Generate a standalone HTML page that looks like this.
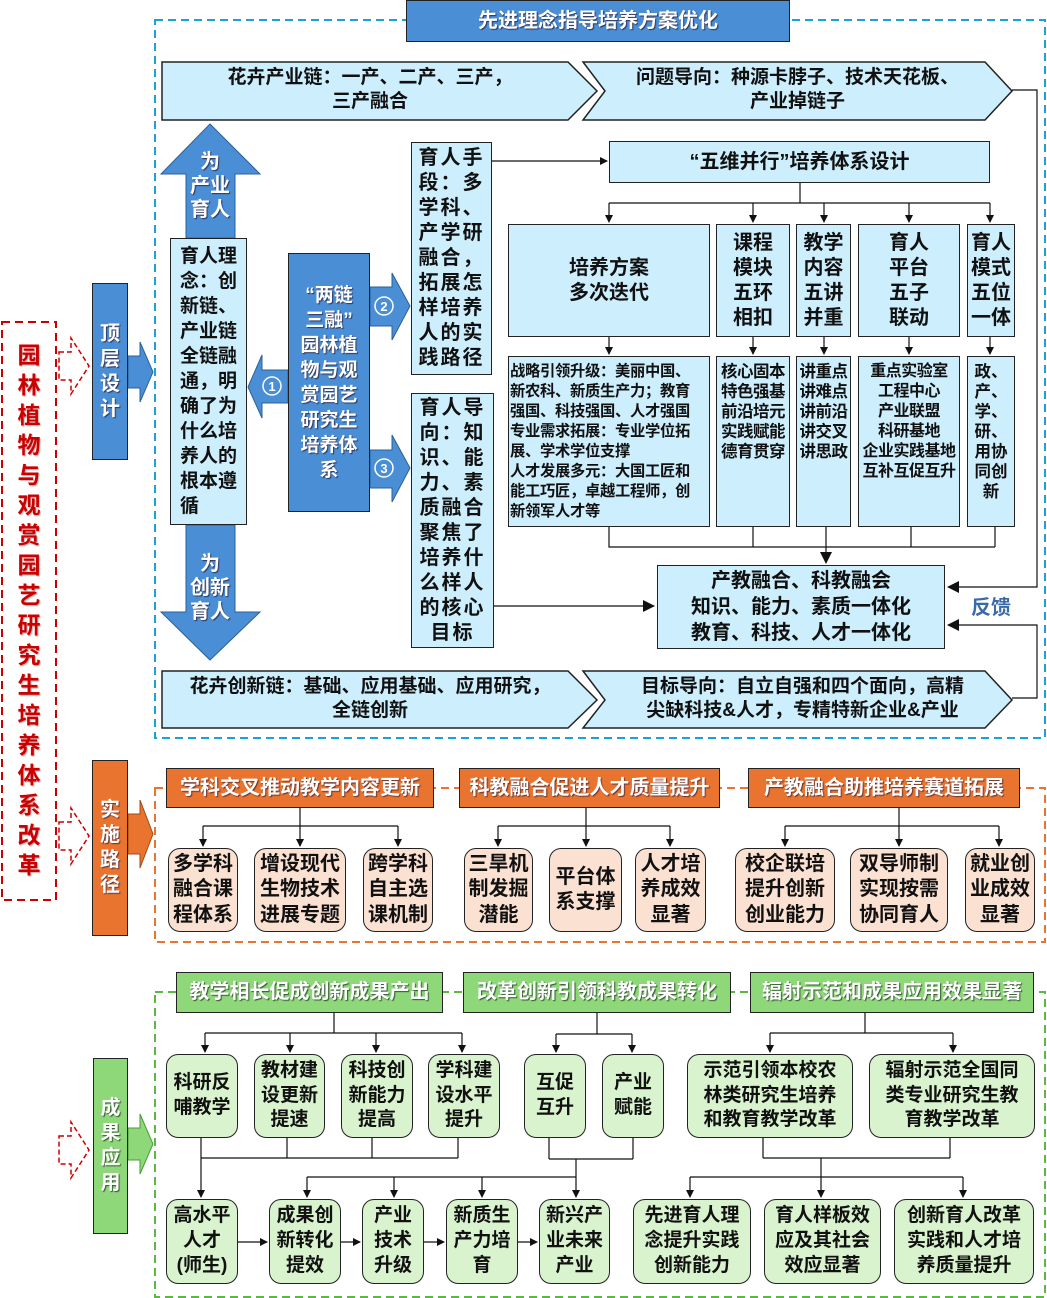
<!DOCTYPE html>
<html><head><meta charset="utf-8"><style>
*{margin:0;padding:0;box-sizing:border-box}
body{width:1047px;height:1298px;position:relative;background:#fff;font-family:"Liberation Sans","Noto Sans CJK SC",sans-serif;font-weight:bold;color:#111;overflow:hidden}
.b{position:absolute;display:flex;align-items:center;justify-content:center;text-align:center;border:1.5px solid #222;line-height:1.25}
.lb{background:#cdeefc}
.bl{background:#4a8fd6;color:#fff;text-shadow:1px 1px 1px #335}
.or{background:#e8742f;color:#fff;text-shadow:1px 1px 1px #633}
.gr{background:#8fd87a;color:#fff;text-shadow:1px 1px 1px #353}
.pk{background:#fbe1d2;border-radius:12px;font-size:20px;line-height:1.27}
.lg{background:#d9f3cf;border-radius:12px;font-size:19px;line-height:1.3}
.t{position:absolute;text-align:center;line-height:1.25}
svg{position:absolute;left:0;top:0}
</style></head><body>
<svg width="1047" height="1298">
<defs><marker id="a" markerWidth="8" markerHeight="8" refX="7" refY="4" orient="auto" markerUnits="userSpaceOnUse"><path d="M0,0L8,4L0,8z" fill="#111"/></marker>
<marker id="s" markerWidth="12" markerHeight="12" refX="11" refY="6" orient="auto" markerUnits="userSpaceOnUse"><path d="M0,0L12,6L0,12z" fill="#111"/></marker></defs>
<rect x="155" y="20" width="890" height="718" fill="none" stroke="#1ba1dc" stroke-width="2" stroke-dasharray="8,5"/>
<rect x="155" y="788" width="890" height="154" fill="none" stroke="#e8742f" stroke-width="2" stroke-dasharray="8,5"/>
<rect x="155" y="992" width="890" height="305" fill="none" stroke="#5cb840" stroke-width="2" stroke-dasharray="8,5"/>
<rect x="2" y="322" width="54" height="578" fill="none" stroke="#c00" stroke-width="2" stroke-dasharray="8,5"/>
<g fill="none" stroke="#c00" stroke-width="1.5" stroke-dasharray="5,3">
<path d="M59,352h12v-14l18,28l-18,28v-14h-12z"/>
<path d="M59,822h12v-14l18,28l-18,28v-14h-12z"/>
<path d="M59,1136h12v-14l18,28l-18,28v-14h-12z"/>
</g>
<g fill="#cdeefc" stroke="#222" stroke-width="1.5">
<polygon points="162,62 568,62 597,91 568,120 162,120"/>
<polygon points="583,62 985,62 1012,91 985,120 583,120 605,91"/>
<polygon points="162,671 568,671 597,700 568,728 162,728"/>
<polygon points="583,671 985,671 1012,700 985,728 583,728 605,700"/>
</g>
<g fill="#4a8fd6" stroke="#2b5f9a" stroke-width="1">
<polygon points="210,124 260,174 235,174 235,238 186,238 186,174 161,174"/>
<polygon points="186,525 235,525 235,612 260,612 210,660 161,612 186,612"/>
<polygon points="128,356 140,356 140,342 153,372 140,402 140,388 128,388"/>
<polygon points="288,370 262,370 262,355 248,387 262,418 262,403 288,403"/>
<polygon points="370,287 392,287 392,273 410,306 392,340 392,326 370,326"/>
<polygon points="370,450 392,450 392,435 410,468 392,502 392,488 370,488"/>
</g>
<polygon points="128,814 140,814 140,800 153,834 140,868 140,854 128,854" fill="#e8742f" stroke="#a04a1a"/>
<polygon points="128,1128 140,1128 140,1114 153,1144 140,1174 140,1160 128,1160" fill="#8fd87a" stroke="#4a9a3a"/>
<g fill="none" stroke="#fff" stroke-width="1.5"><circle cx="272" cy="386" r="9"/><circle cx="384" cy="306" r="9"/><circle cx="384" cy="468" r="9"/></g>
<g fill="#fff" font-size="13" font-family="Liberation Sans" text-anchor="middle"><text x="272" y="391">1</text><text x="384" y="311">2</text><text x="384" y="473">3</text></g>
<g stroke="#111" stroke-width="1.2" fill="none">
<line x1="492" y1="161" x2="607" y2="161" marker-end="url(#a)"/>
<line x1="800" y1="183" x2="800" y2="203"/>
<line x1="609" y1="203" x2="990" y2="203"/>
<line x1="609" y1="203" x2="609" y2="222" marker-end="url(#a)"/>
<line x1="753" y1="203" x2="753" y2="222" marker-end="url(#a)"/>
<line x1="824" y1="203" x2="824" y2="222" marker-end="url(#a)"/>
<line x1="909" y1="203" x2="909" y2="222" marker-end="url(#a)"/>
<line x1="990" y1="203" x2="990" y2="222" marker-end="url(#a)"/>
<line x1="609" y1="337" x2="609" y2="354" marker-end="url(#a)"/>
<line x1="753" y1="337" x2="753" y2="354" marker-end="url(#a)"/>
<line x1="824" y1="337" x2="824" y2="354" marker-end="url(#a)"/>
<line x1="909" y1="337" x2="909" y2="354" marker-end="url(#a)"/>
<line x1="990" y1="337" x2="990" y2="354" marker-end="url(#a)"/>
<polyline points="609,527 609,547 995,547"/>
<line x1="753" y1="527" x2="753" y2="547"/><line x1="911" y1="527" x2="911" y2="547"/><line x1="995" y1="527" x2="995" y2="547"/>
<line x1="826" y1="527" x2="826" y2="563" marker-end="url(#s)"/>
<line x1="494" y1="606" x2="654" y2="606" marker-end="url(#s)"/>
<polyline points="1012,90 1037,90 1037,587 948,587" marker-end="url(#s)"/>
<polyline points="1012,698 1037,698 1037,625 948,625" marker-end="url(#s)"/>
<line x1="300" y1="808" x2="300" y2="826"/><line x1="203" y1="826" x2="398" y2="826"/>
<line x1="203" y1="826" x2="203" y2="846" marker-end="url(#a)"/><line x1="300" y1="826" x2="300" y2="846" marker-end="url(#a)"/><line x1="398" y1="826" x2="398" y2="846" marker-end="url(#a)"/>
<line x1="586" y1="808" x2="586" y2="826"/><line x1="498" y1="826" x2="670" y2="826"/>
<line x1="498" y1="826" x2="498" y2="846" marker-end="url(#a)"/><line x1="586" y1="826" x2="586" y2="846" marker-end="url(#a)"/><line x1="670" y1="826" x2="670" y2="846" marker-end="url(#a)"/>
<line x1="899" y1="808" x2="899" y2="826"/><line x1="785" y1="826" x2="999" y2="826"/>
<line x1="785" y1="826" x2="785" y2="846" marker-end="url(#a)"/><line x1="899" y1="826" x2="899" y2="846" marker-end="url(#a)"/><line x1="999" y1="826" x2="999" y2="846" marker-end="url(#a)"/>
<line x1="334" y1="1013" x2="334" y2="1033"/><line x1="205" y1="1033" x2="462" y2="1033"/>
<line x1="205" y1="1033" x2="205" y2="1052" marker-end="url(#a)"/><line x1="290" y1="1033" x2="290" y2="1052" marker-end="url(#a)"/><line x1="376" y1="1033" x2="376" y2="1052" marker-end="url(#a)"/><line x1="462" y1="1033" x2="462" y2="1052" marker-end="url(#a)"/>
<line x1="597" y1="1013" x2="597" y2="1034"/><line x1="556" y1="1034" x2="632" y2="1034"/>
<line x1="556" y1="1034" x2="556" y2="1052" marker-end="url(#a)"/><line x1="632" y1="1034" x2="632" y2="1052" marker-end="url(#a)"/>
<line x1="865" y1="1013" x2="865" y2="1033"/><line x1="770" y1="1033" x2="953" y2="1033"/>
<line x1="770" y1="1033" x2="770" y2="1052" marker-end="url(#a)"/><line x1="953" y1="1033" x2="953" y2="1052" marker-end="url(#a)"/>
<line x1="201" y1="1158" x2="458" y2="1158"/>
<line x1="201" y1="1138" x2="201" y2="1197" marker-end="url(#a)"/><line x1="287" y1="1138" x2="287" y2="1158"/><line x1="372" y1="1138" x2="372" y2="1158"/><line x1="458" y1="1138" x2="458" y2="1158"/>
<line x1="549" y1="1138" x2="549" y2="1159"/><line x1="633" y1="1138" x2="633" y2="1159"/><line x1="549" y1="1159" x2="633" y2="1159"/>
<line x1="576" y1="1159" x2="576" y2="1197" marker-end="url(#a)"/>
<line x1="307" y1="1177" x2="576" y2="1177"/>
<line x1="307" y1="1177" x2="307" y2="1197" marker-end="url(#a)"/><line x1="394" y1="1177" x2="394" y2="1197" marker-end="url(#a)"/><line x1="482" y1="1177" x2="482" y2="1197" marker-end="url(#a)"/>
<line x1="763" y1="1138" x2="763" y2="1158"/><line x1="950" y1="1138" x2="950" y2="1158"/><line x1="763" y1="1158" x2="950" y2="1158"/>
<line x1="821" y1="1158" x2="821" y2="1197" marker-end="url(#a)"/>
<line x1="690" y1="1177" x2="963" y2="1177"/>
<line x1="690" y1="1177" x2="690" y2="1197" marker-end="url(#a)"/><line x1="963" y1="1177" x2="963" y2="1197" marker-end="url(#a)"/>
<line x1="238" y1="1242" x2="267" y2="1242" marker-end="url(#a)"/>
<line x1="341" y1="1242" x2="360" y2="1242" marker-end="url(#a)"/>
<line x1="424" y1="1242" x2="444" y2="1242" marker-end="url(#a)"/>
<line x1="518" y1="1242" x2="537" y2="1242" marker-end="url(#a)"/>
</g>
</svg>

<div class="b bl" style="left:406px;top:0;width:384px;height:42px;font-size:20px">先进理念指导培养方案优化</div>
<div class="t" style="left:190px;top:66px;width:360px;font-size:19px">花卉产业链：一产、二产、三产，<br>三产融合</div>
<div class="t" style="left:600px;top:66px;width:395px;font-size:19px">问题导向：种源卡脖子、技术天花板、<br>产业掉链子</div>
<div class="t" style="left:170px;top:675px;width:400px;font-size:19px">花卉创新链：基础、应用基础、应用研究，<br>全链创新</div>
<div class="t" style="left:605px;top:675px;width:395px;font-size:19px">目标导向：自立自强和四个面向，高精<br>尖缺科技&amp;人才，专精特新企业&amp;产业</div>

<div class="t" style="left:180px;top:150px;width:60px;font-size:20px;color:#fff;text-shadow:1px 1px 1px #335;line-height:1.2">为<br>产业<br>育人</div>
<div class="t" style="left:180px;top:552px;width:60px;font-size:20px;color:#fff;text-shadow:1px 1px 1px #335;line-height:1.2">为<br>创新<br>育人</div>

<div class="b lb" style="left:170px;top:238px;width:77px;height:287px;font-size:19px;line-height:25px;text-align:justify">育人理<br>念：创<br>新链、<br>产业链<br>全链融<br>通，明<br>确了为<br>什么培<br>养人的<br>根本遵<br>循</div>
<div class="b bl" style="left:92px;top:283px;width:36px;height:177px;font-size:20px;line-height:25px">顶<br>层<br>设<br>计</div>
<div class="b bl" style="left:288px;top:253px;width:82px;height:259px;font-size:19px;line-height:25px">“两链<br>三融”<br>园林植<br>物与观<br>赏园艺<br>研究生<br>培养体<br>系</div>
<div class="b lb" style="left:411px;top:142px;width:81px;height:233px;font-size:20px;line-height:25px;letter-spacing:2px">育人手<br>段：多<br>学科、<br>产学研<br>融合，<br>拓展怎<br>样培养<br>人的实<br>践路径</div>
<div class="b lb" style="left:411px;top:393px;width:83px;height:255px;font-size:20px;line-height:25px;letter-spacing:2px">育人导<br>向：知<br>识、能<br>力、素<br>质融合<br>聚焦了<br>培养什<br>么样人<br>的核心<br>目标</div>

<div class="b lb" style="left:609px;top:141px;width:381px;height:42px;font-size:20px">“五维并行”培养体系设计</div>
<div class="b lb" style="left:508px;top:224px;width:202px;height:113px;font-size:20px">培养方案<br>多次迭代</div>
<div class="b lb" style="left:716px;top:224px;width:74px;height:113px;font-size:20px">课程<br>模块<br>五环<br>相扣</div>
<div class="b lb" style="left:796px;top:224px;width:55px;height:113px;font-size:20px">教学<br>内容<br>五讲<br>并重</div>
<div class="b lb" style="left:858px;top:224px;width:102px;height:113px;font-size:20px">育人<br>平台<br>五子<br>联动</div>
<div class="b lb" style="left:967px;top:224px;width:48px;height:113px;font-size:20px">育人<br>模式<br>五位<br>一体</div>

<div class="b lb" style="left:508px;top:356px;width:202px;height:171px;font-size:15.3px;line-height:20px;align-items:flex-start;justify-content:flex-start;text-align:left;padding:5px 0 0 1px;white-space:nowrap;letter-spacing:-0.3px">战略引领升级：美丽中国、<br>新农科、新质生产力；教育<br>强国、科技强国、人才强国<br>专业需求拓展：专业学位拓<br>展、学术学位支撑<br>人才发展多元：大国工匠和<br>能工巧匠，卓越工程师，创<br>新领军人才等</div>
<div class="b lb" style="left:716px;top:356px;width:74px;height:171px;font-size:16.5px;line-height:20px;align-items:flex-start;padding-top:5px;white-space:nowrap;letter-spacing:-0.5px">核心固本<br>特色强基<br>前沿培元<br>实践赋能<br>德育贯穿</div>
<div class="b lb" style="left:796px;top:356px;width:55px;height:171px;font-size:16.5px;line-height:20px;align-items:flex-start;padding-top:5px;white-space:nowrap;letter-spacing:-0.5px">讲重点<br>讲难点<br>讲前沿<br>讲交叉<br>讲思政</div>
<div class="b lb" style="left:858px;top:356px;width:102px;height:171px;font-size:16px;line-height:20px;align-items:flex-start;padding-top:5px;white-space:nowrap;letter-spacing:-0.5px">重点实验室<br>工程中心<br>产业联盟<br>科研基地<br>企业实践基地<br>互补互促互升</div>
<div class="b lb" style="left:967px;top:356px;width:48px;height:171px;font-size:16.5px;line-height:20px;align-items:flex-start;padding-top:5px">政、<br>产、<br>学、<br>研、<br>用协<br>同创<br>新</div>

<div class="b lb" style="left:657px;top:565px;width:288px;height:84px;font-size:20px;line-height:26px">产教融合、科教融会<br>知识、能力、素质一体化<br>教育、科技、人才一体化</div>
<div class="t" style="left:966px;top:596px;width:50px;font-size:20px;color:#3a6aa8">反馈</div>

<div class="t" style="left:4px;top:340px;width:50px;font-size:23px;line-height:30px;color:#c00;text-shadow:1px 1px 1px #caa">园<br>林<br>植<br>物<br>与<br>观<br>赏<br>园<br>艺<br>研<br>究<br>生<br>培<br>养<br>体<br>系<br>改<br>革</div>

<div class="b or" style="left:92px;top:760px;width:36px;height:176px;font-size:20px;line-height:25px">实<br>施<br>路<br>径</div>
<div class="b or" style="left:166px;top:768px;width:268px;height:40px;font-size:20px">学科交叉推动教学内容更新</div>
<div class="b or" style="left:459px;top:768px;width:261px;height:40px;font-size:20px">科教融合促进人才质量提升</div>
<div class="b or" style="left:748px;top:768px;width:272px;height:40px;font-size:20px">产教融合助推培养赛道拓展</div>
<div class="b pk" style="left:168px;top:848px;width:70px;height:84px">多学科<br>融合课<br>程体系</div>
<div class="b pk" style="left:254px;top:848px;width:92px;height:84px">增设现代<br>生物技术<br>进展专题</div>
<div class="b pk" style="left:363px;top:848px;width:70px;height:84px">跨学科<br>自主选<br>课机制</div>
<div class="b pk" style="left:464px;top:848px;width:69px;height:84px">三旱机<br>制发掘<br>潜能</div>
<div class="b pk" style="left:549px;top:848px;width:73px;height:84px">平台体<br>系支撑</div>
<div class="b pk" style="left:635px;top:848px;width:71px;height:84px">人才培<br>养成效<br>显著</div>
<div class="b pk" style="left:735px;top:848px;width:100px;height:84px">校企联培<br>提升创新<br>创业能力</div>
<div class="b pk" style="left:850px;top:848px;width:98px;height:84px">双导师制<br>实现按需<br>协同育人</div>
<div class="b pk" style="left:965px;top:848px;width:70px;height:84px">就业创<br>业成效<br>显著</div>

<div class="b gr" style="left:93px;top:1058px;width:35px;height:176px;font-size:20px;line-height:25px">成<br>果<br>应<br>用</div>
<div class="b gr" style="left:176px;top:972px;width:267px;height:41px;font-size:20px">教学相长促成创新成果产出</div>
<div class="b gr" style="left:463px;top:972px;width:268px;height:41px;font-size:20px">改革创新引领科教成果转化</div>
<div class="b gr" style="left:750px;top:972px;width:284px;height:41px;font-size:20px">辐射示范和成果应用效果显著</div>
<div class="b lg" style="left:166px;top:1054px;width:72px;height:84px">科研反<br>哺教学</div>
<div class="b lg" style="left:254px;top:1054px;width:71px;height:84px">教材建<br>设更新<br>提速</div>
<div class="b lg" style="left:341px;top:1054px;width:72px;height:84px">科技创<br>新能力<br>提高</div>
<div class="b lg" style="left:428px;top:1054px;width:72px;height:84px">学科建<br>设水平<br>提升</div>
<div class="b lg" style="left:524px;top:1054px;width:62px;height:84px">互促<br>互升</div>
<div class="b lg" style="left:602px;top:1054px;width:62px;height:84px">产业<br>赋能</div>
<div class="b lg" style="left:687px;top:1054px;width:166px;height:84px">示范引领本校农<br>林类研究生培养<br>和教育教学改革</div>
<div class="b lg" style="left:869px;top:1054px;width:166px;height:84px">辐射示范全国同<br>类专业研究生教<br>育教学改革</div>
<div class="b lg" style="left:166px;top:1199px;width:72px;height:85px">高水平<br>人才<br>(师生)</div>
<div class="b lg" style="left:269px;top:1199px;width:72px;height:85px">成果创<br>新转化<br>提效</div>
<div class="b lg" style="left:362px;top:1199px;width:62px;height:85px">产业<br>技术<br>升级</div>
<div class="b lg" style="left:446px;top:1199px;width:72px;height:85px">新质生<br>产力培<br>育</div>
<div class="b lg" style="left:539px;top:1199px;width:71px;height:85px">新兴产<br>业未来<br>产业</div>
<div class="b lg" style="left:633px;top:1199px;width:118px;height:85px">先进育人理<br>念提升实践<br>创新能力</div>
<div class="b lg" style="left:764px;top:1199px;width:117px;height:85px">育人样板效<br>应及其社会<br>效应显著</div>
<div class="b lg" style="left:894px;top:1199px;width:140px;height:85px">创新育人改革<br>实践和人才培<br>养质量提升</div>
</body></html>
